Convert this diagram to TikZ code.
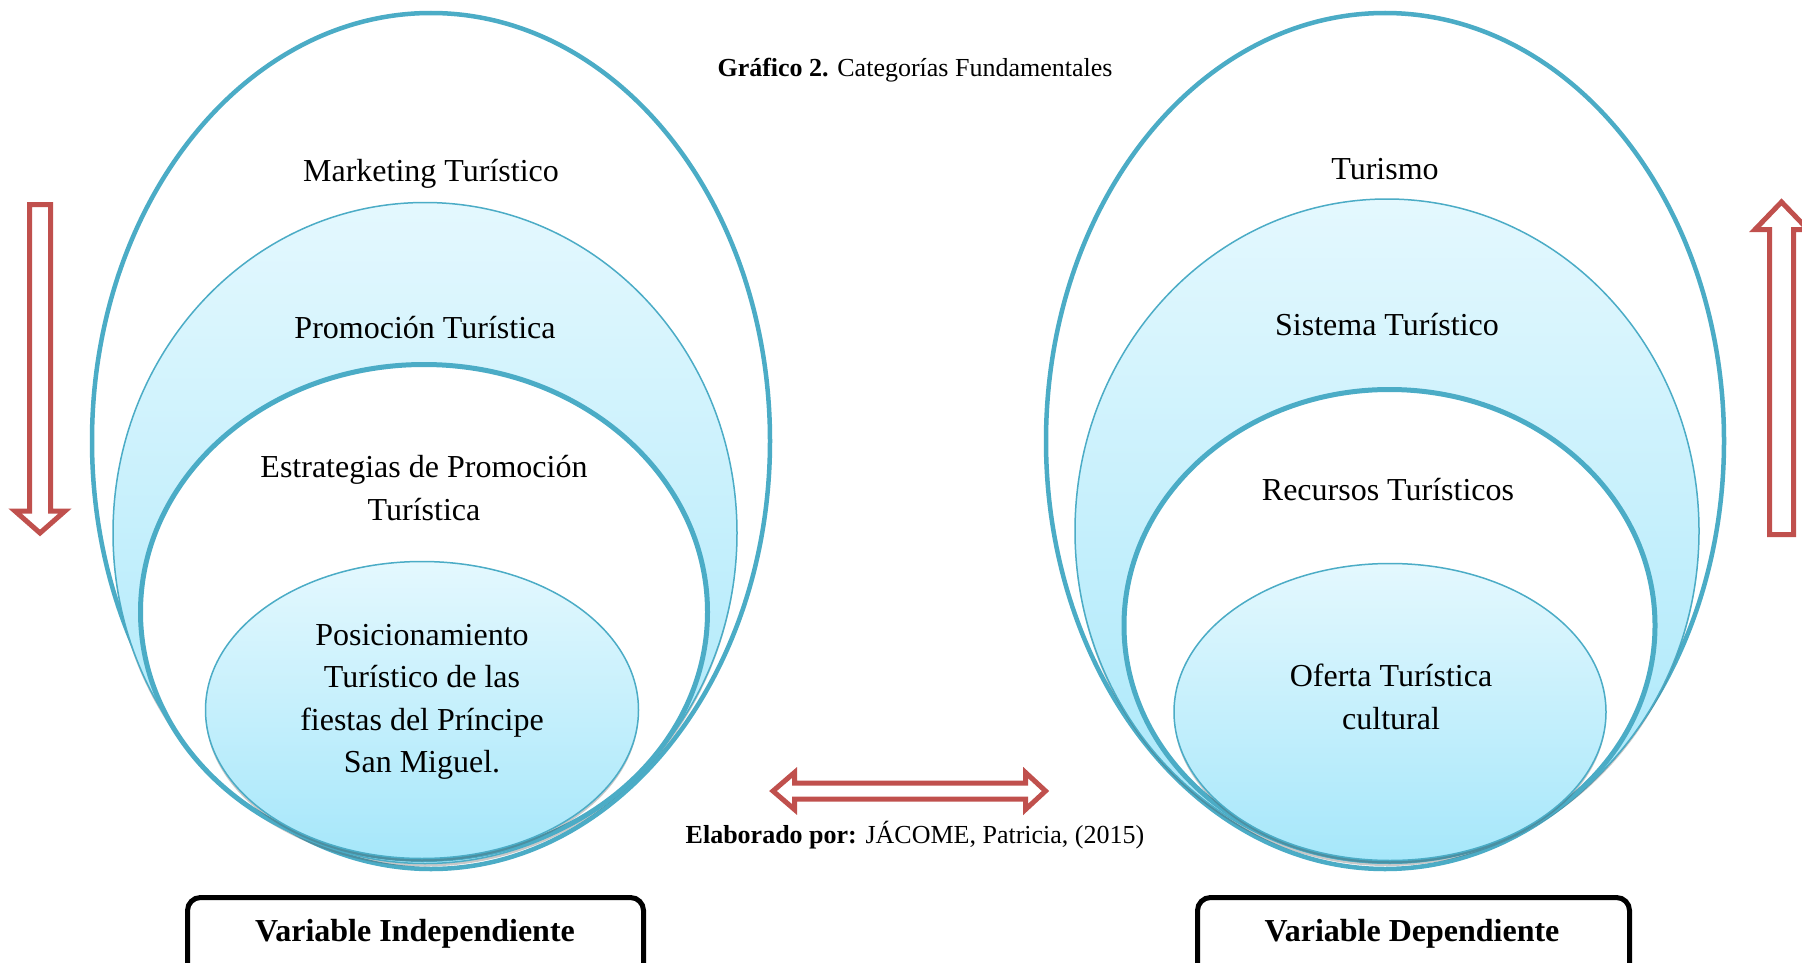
\documentclass[tikz,border=0pt]{standalone}
\usepackage{fontspec}
\setmainfont{Liberation Serif}
\usetikzlibrary{shapes.geometric,shadows}
\definecolor{ringblue}{HTML}{4BACC6}
\definecolor{arrowred}{HTML}{C0504D}
\definecolor{filltop}{HTML}{E4F8FE}
\definecolor{fillbot}{HTML}{A6E7FA}
\tikzset{
  ring/.style={ellipse, draw=ringblue, inner sep=0pt, outer sep=0pt},
  outerring/.style={ring, line width=4.5pt},
  shadedring/.style={ring, line width=1.5pt, top color=filltop, bottom color=fillbot,
    drop shadow={shadow xshift=0pt, shadow yshift=-3pt, opacity=0.3, fill=black!70}},
  whitering/.style={ring, line width=5pt, fill=white},
  lbl/.style={font=\fontsize{32}{42.5}\selectfont, align=center, inner sep=0pt},
  small/.style={font=\fontsize{26}{30}\selectfont, inner sep=0pt},
  varbox/.style={draw=black, line width=5pt, rounded corners=13pt, inner sep=0pt, fill=white},
  varlbl/.style={font=\fontsize{32}{38}\selectfont\bfseries, inner sep=0pt, anchor=base},
  redarrow/.style={draw=arrowred, line width=5pt, fill=white, line join=miter},
}
\begin{document}
\begin{tikzpicture}[x=1pt,y=-1pt]
\useasboundingbox (0,0) rectangle (1802,963);
\fill[white] (0,0) rectangle (1802,963);

% left set
\node[outerring, minimum width=678pt, minimum height=856pt] (louter) at (431,441) {};
\node[shadedring, minimum width=624pt, minimum height=661pt] (lsecond) at (425,533) {};
\node[whitering, minimum width=567pt, minimum height=495pt] (lthird) at (424,612) {};
\node[shadedring, minimum width=433pt, minimum height=297pt] (lfourth) at (422,710) {};

% right set
\node[outerring, minimum width=678pt, minimum height=856pt] (router) at (1385,441) {};
\node[shadedring, minimum width=624pt, minimum height=664pt] (rsecond) at (1387,531) {};
\node[whitering, minimum width=531pt, minimum height=472pt] (rthird) at (1389.5,625.5) {};
\node[shadedring, minimum width=432pt, minimum height=297pt] (rfourth) at (1390,712) {};

% labels
\node[lbl] (tmkt) at (431,174) {Marketing Turístico};
\node[lbl] (tprom) at (425,328) {Promoción Turística};
\node[lbl] (testr) at (424,488) {Estrategias de Promoción\\Turística};
\node[lbl] (tpos) at (422,702) {Posicionamiento\\Turístico de las\\fiestas del Príncipe\\San Miguel.};
\node[lbl] (ttur) at (1385,169) {Turismo};
\node[lbl] (tsis) at (1387,325) {Sistema Turístico};
\node[lbl] (trec) at (1388,490) {Recursos Turísticos};
\node[lbl] (tofe) at (1391,697) {Oferta Turística\\cultural};

\node[small] (title) at (915,70.5) {\textbf{Gráfico 2.} Categorías Fundamentales};
\node[small] (autor) at (915,835) {\textbf{Elaborado por:} JÁCOME, Patricia, (2015)};

% arrows
\draw[redarrow] (29.5,204.5) -- (50.5,204.5) -- (50.5,511) -- (65,511) -- (40,533)
  -- (15,511) -- (29.5,511) -- cycle;
\draw[redarrow] (1769.5,534.5) -- (1793.5,534.5) -- (1793.5,229.5) -- (1808,229.5)
  -- (1781.5,202) -- (1755,229.5) -- (1769.5,229.5) -- cycle;
\draw[redarrow] (773,791) -- (794.5,772.5) -- (794.5,783) -- (1025.5,783)
  -- (1025.5,772.5) -- (1045.5,791) -- (1025.5,809.5) -- (1025.5,799)
  -- (794.5,799) -- (794.5,809.5) -- cycle;

% variable boxes
\node[varbox, minimum width=456pt, minimum height=90pt, anchor=north west] (bind) at (185,895) {};
\node[varbox, minimum width=432pt, minimum height=90pt, anchor=north west] (bdep) at (1195,895) {};
\node[varlbl] (lind) at (415,941) {Variable Independiente};
\node[varlbl] (ldep) at (1412,941) {Variable Dependiente};
\end{tikzpicture}
\end{document}
